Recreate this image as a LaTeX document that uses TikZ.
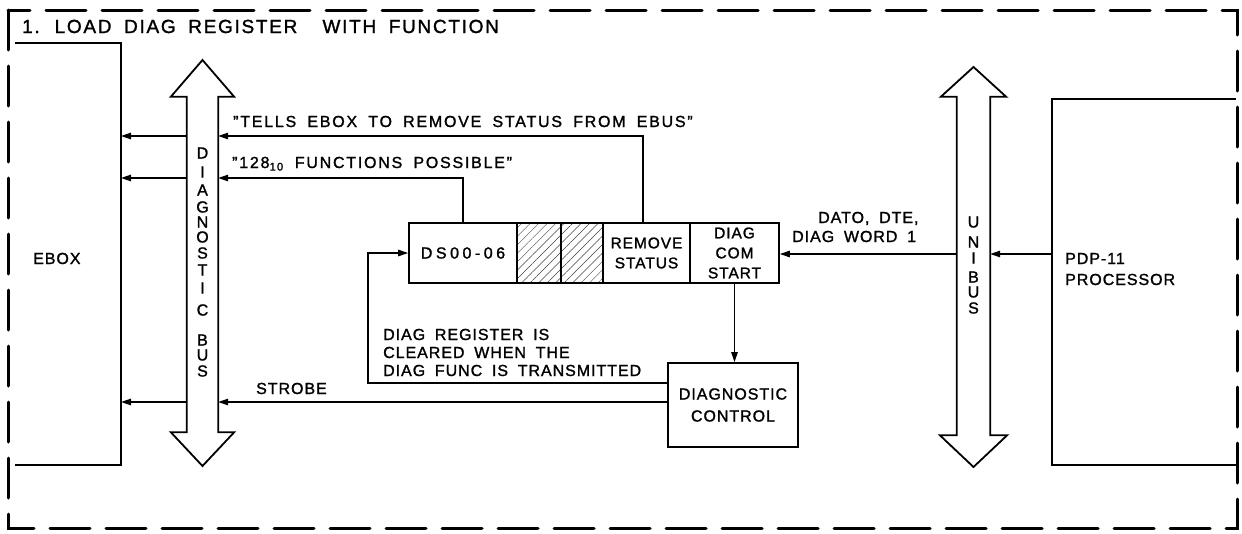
\documentclass[tikz,border=0pt]{standalone}
\usepackage{fontspec}
\setmainfont{Liberation Sans}[LetterSpace=6, WordSpace=1.8, FakeBold=1.4]
\usetikzlibrary{arrows.meta,patterns.meta,calc}
\newcommand{\qq}{\symbol{34}}

\begin{document}
\begin{tikzpicture}[x=1pt,y=-1pt,
  txt/.style={inner sep=0pt, font=\fontsize{16}{19}\selectfont},
  wide/.style={font=\fontsize{16}{19}\selectfont\addfontfeature{LetterSpace=11}},
  boxline/.style={line width=1.8pt, line join=miter},
  wire/.style={line width=1.3pt},
  sig/.style={wire, -{Triangle[length=10pt,width=6.5pt]}},
  cell/.style={draw, line width=1.8pt, minimum height=60pt, inner sep=0pt,
    align=center, font=\fontsize{15.5}{20}\selectfont},
  hatched/.style={cell, pattern={Lines[angle=45,distance=6pt,line width=0.45pt]},
    pattern color=black!75},
  frame/.style={line width=3pt, dash pattern=on 40pt off 16pt, line cap=round},
]
\useasboundingbox (0,0) rectangle (1242,533);

% dashed outline of the whole step
\draw[frame] (8,10) rectangle (1237,528);
\node[txt, anchor=base west,
  font=\fontsize{19}{22}\selectfont\addfontfeature{LetterSpace=9}] (title) at (22,33)
  {1. LOAD DIAG REGISTER\ \ WITH FUNCTION};

% EBOX (open on the left)
\coordinate (ebnw) at (15,43);
\coordinate (ebne) at (121,43);
\coordinate (ebse) at (121,465);
\coordinate (ebsw) at (15,465);
\draw[boxline] (ebnw) -- (ebne) -- (ebse) -- (ebsw);
\node[txt, anchor=base west] (eboxlbl) at (33,264) {EBOX};

% PDP-11 processor (open on the right)
\coordinate (pdpne) at (1236,99);
\coordinate (pdpnw) at (1052,99);
\coordinate (pdpsw) at (1052,465);
\coordinate (pdpse) at (1236,465);
\draw[boxline] (pdpne) -- (pdpnw) -- (pdpsw) -- (pdpse);
\node[txt, anchor=base west] (pdp1) at (1065,264) {PDP-11};
\node[txt, anchor=base west] (pdp2) at (1065,285) {PROCESSOR};

% diagnostic bus: double-headed wide arrow
\node[minimum width=31pt, minimum height=335pt, inner sep=0pt] (dbus) at (202.5,264.5) {};
\draw[boxline] (dbus.north west) -- ++(-16,0) -- (202.5,60)
  -- ($(dbus.north east)+(16,0)$) -- (dbus.north east) -- (dbus.south east)
  -- ++(16,0) -- (202.5,466) -- ($(dbus.south west)+(-16,0)$)
  -- (dbus.south west) -- cycle;
\foreach \ch/\yy [count=\k] in {D/153,I/172,A/190,G/207,N/222,O/237,S/253,
    T/270,I/288,C/310,B/340,U/355,S/371}
  \node[txt] (dg\k) at (202.5,\yy) {\ch};

% UNIBUS: double-headed wide arrow
\node[minimum width=33pt, minimum height=338pt, inner sep=0pt] (ubus) at (973.5,266) {};
\draw[boxline] (ubus.north west) -- ++(-16,0) -- (973.5,67)
  -- ($(ubus.north east)+(16,0)$) -- (ubus.north east) -- (ubus.south east)
  -- ++(17,0) -- (973.5,467) -- ($(ubus.south west)+(-17,0)$)
  -- (ubus.south west) -- cycle;
\foreach \ch/\yy [count=\k] in {U/222,N/242,I/258,B/277,U/292,S/308}
  \node[txt] (ub\k) at (973.5,\yy) {\ch};

% diagnostic register
\node[cell, minimum width=108pt,
  font=\fontsize{16}{20}\selectfont\addfontfeature{LetterSpace=22}] (ds) at (463,253) {DS00-06};
\node[hatched, minimum width=44pt] (h1) at (539,253) {};
\node[hatched, minimum width=42pt] (h2) at (582,253) {};
\node[cell, minimum width=87pt] (rs) at (646.5,253) {REMOVE\\STATUS};
\node[cell, minimum width=89pt] (dcs) at (734.5,253) {DIAG\\COM\\START};

% diagnostic control
\node[draw, line width=1.8pt, minimum width=130pt, minimum height=84pt, inner sep=0pt,
  align=center, font=\fontsize{16}{22}\selectfont] (dc) at (733,405) {DIAGNOSTIC\\CONTROL};

% signal levels
\coordinate (tl) at (0,136);
\coordinate (fp) at (0,178);
\coordinate (ul) at (0,254);
\coordinate (fbc) at (368,383);
\coordinate (strb) at (0,402);

% connectors
\draw[sig] ([xshift=-3.5pt]rs.north) |- (dbus.east |- tl);
\draw[sig] (dbus.west |- tl) -- (ebne |- tl);
\draw[sig] (ds.north) |- (dbus.east |- fp);
\draw[sig] (dbus.west |- fp) -- (ebne |- fp);
\draw[sig] (pdpnw |- ul) -- (ubus.east |- ul);
\draw[sig] (ubus.west |- ul) -- (dcs.east |- ul);
\draw[sig] (dcs.south) -- (dcs.south |- dc.north);
\draw[sig] (dc.west |- fbc) -- (fbc) |- (ds.west);
\draw[sig] (dc.west |- strb) -- (dbus.east |- strb);
\draw[sig] (dbus.west |- strb) -- (ebne |- strb);

% labels
\node[txt, wide, anchor=base west] (tells) at (233,127) {\qq TELLS EBOX TO REMOVE STATUS FROM EBUS\qq};
\node[txt, wide, anchor=base west] (funcs) at (232,168) {\qq 128\textsubscript{10} FUNCTIONS POSSIBLE\qq};
\node[txt, anchor=base west] (strobe) at (256,394) {STROBE};
\node[txt, anchor=base west] (clr1) at (383,340) {DIAG REGISTER IS};
\node[txt, anchor=base west] (clr2) at (383,358) {CLEARED WHEN THE};
\node[txt, anchor=base west] (clr3) at (383,376) {DIAG FUNC IS TRANSMITTED};
\node[txt, anchor=base west] (dato) at (818,223) {DATO, DTE,};
\node[txt, anchor=base west] (dword) at (792,242) {DIAG WORD 1};
\end{tikzpicture}
\end{document}
